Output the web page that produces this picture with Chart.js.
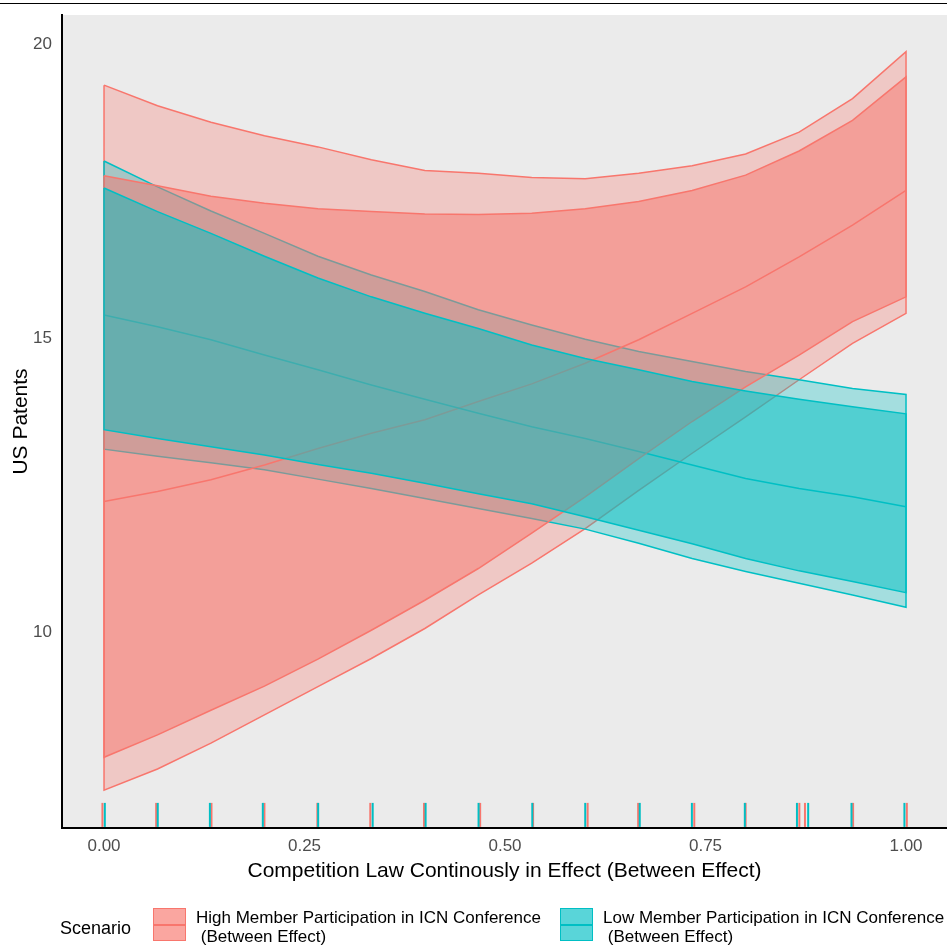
<!DOCTYPE html>
<html>
<head>
<meta charset="utf-8">
<script src="https://cdn.jsdelivr.net/npm/chart.js@4.4.1/dist/chart.umd.min.js"></script>
<style>
  html, body { margin: 0; padding: 0; background: #ffffff; }
  #wrap { position: relative; width: 947px; height: 946px; overflow: hidden; font-family: 'Liberation Sans', Arial, sans-serif; }
  #topline { position: absolute; left: 0; top: 3px; width: 947px; height: 1px; background: #000; }
  canvas { position: absolute; left: 0; top: 0; }
  .legtitle { position: absolute; left: 60px; top: 916px; font-size: 18px; color: #000; line-height: 24px; }
  .key { position: absolute; top: 908px; width: 31px; height: 31px; box-sizing: content-box; }
  .key .mid { position: absolute; left: 0; right: 0; top: 15px; height: 1.5px; }
  .legtext { position: absolute; top: 908px; font-size: 17px; color: #000; line-height: 19px; white-space: pre; }
</style>
</head>
<body>
<div id="wrap">
  <canvas id="c" width="947" height="946"></canvas>
  <div id="topline"></div>
  <div id="legend"></div>
</div>
<script>
// ---------- data ----------
const xValues = [0, 0.0667, 0.1333, 0.2, 0.2667, 0.3333, 0.4, 0.4667, 0.5333, 0.6, 0.6667, 0.7333, 0.8, 0.8667, 0.9333, 1];

// High member participation (red)
const highOuterUpper = [19.30, 18.95, 18.67, 18.44, 18.25, 18.03, 17.85, 17.80, 17.73, 17.71, 17.80, 17.93, 18.13, 18.50, 19.07, 19.87];
const highInnerUpper = [17.76, 17.59, 17.41, 17.29, 17.20, 17.15, 17.11, 17.10, 17.12, 17.20, 17.32, 17.51, 17.77, 18.18, 18.70, 19.44];
const highFit        = [12.22, 12.39, 12.59, 12.84, 13.12, 13.38, 13.61, 13.92, 14.22, 14.57, 14.97, 15.42, 15.87, 16.38, 16.92, 17.51];
const highInnerLower = [7.87, 8.25, 8.67, 9.08, 9.54, 10.03, 10.54, 11.08, 11.68, 12.30, 12.95, 13.58, 14.17, 14.71, 15.28, 15.70];
const highOuterLower = [7.31, 7.67, 8.11, 8.59, 9.07, 9.55, 10.06, 10.63, 11.17, 11.76, 12.41, 13.04, 13.66, 14.29, 14.91, 15.42];

// Low member participation (teal)
const lowOuterUpper = [18.01, 17.57, 17.16, 16.78, 16.39, 16.07, 15.79, 15.48, 15.22, 14.98, 14.77, 14.60, 14.43, 14.29, 14.14, 14.04];
const lowInnerUpper = [17.55, 17.15, 16.78, 16.39, 16.02, 15.70, 15.42, 15.16, 14.88, 14.65, 14.46, 14.26, 14.10, 13.96, 13.83, 13.71];
const lowFit        = [15.39, 15.19, 14.97, 14.71, 14.46, 14.20, 13.96, 13.72, 13.49, 13.29, 13.07, 12.84, 12.61, 12.44, 12.30, 12.13];
const lowInnerLower = [13.44, 13.29, 13.15, 13.01, 12.85, 12.70, 12.53, 12.35, 12.18, 11.96, 11.73, 11.50, 11.25, 11.04, 10.86, 10.67];
const lowOuterLower = [13.11, 12.99, 12.88, 12.76, 12.60, 12.44, 12.27, 12.10, 11.93, 11.75, 11.51, 11.25, 11.03, 10.83, 10.63, 10.42];

// Rug (observed x values)
const highRug = [-0.002, 0.065, 0.134, 0.200, 0.266, 0.332, 0.399, 0.469, 0.535, 0.603, 0.666, 0.736, 0.800, 0.867, 0.874, 0.934, 1.001];
const lowRug  = [0.001, 0.067, 0.132, 0.198, 0.267, 0.335, 0.401, 0.467, 0.534, 0.600, 0.668, 0.733, 0.799, 0.864, 0.878, 0.932, 0.998];
const rugLevel = 6.89;

const xTicks = [0, 0.25, 0.5, 0.75, 1];
const yTicks = [10, 15, 20];

const scenarios = ['High Member Participation in ICN Conference\n (Between Effect)', 'Low Member Participation in ICN Conference\n (Between Effect)'];
const legendTitle = 'Scenario';
const xTitle = 'Competition Law Continously in Effect (Between Effect)';
const yTitle = 'US Patents';

const RED = '#F8766D';
const TEAL = '#00BFC4';

// ---------- helpers ----------
function ribbon(upper, lower) {
  const pts = xValues.map((x, i) => ({x: x, y: upper[i]}));
  for (let i = xValues.length - 1; i >= 0; i--) pts.push({x: xValues[i], y: lower[i]});
  pts.push({x: xValues[0], y: upper[0]});
  return pts;
}
function curve(vals) { return xValues.map((x, i) => ({x: x, y: vals[i]})); }
function rug(xs) { return xs.map(x => ({x: x, y: rugLevel})); }
function rgba(hex, a) {
  const n = parseInt(hex.slice(1), 16);
  return 'rgba(' + ((n >> 16) & 255) + ',' + ((n >> 8) & 255) + ',' + (n & 255) + ',' + a + ')';
}
function ribbonDs(upper, lower, color, alpha, order) {
  return {type: 'line', data: ribbon(upper, lower), borderColor: color, borderWidth: 1.5,
    backgroundColor: rgba(color, alpha), fill: 'shape', pointRadius: 0, tension: 0, order: order};
}
function lineDs(vals, color, order) {
  return {type: 'line', data: curve(vals), borderColor: color, borderWidth: 1.5, fill: false,
    pointRadius: 0, tension: 0, order: order};
}
function rugDs(xs, color, order) {
  return {type: 'scatter', data: rug(xs), pointStyle: 'line', rotation: 90, pointRadius: 12,
    pointHoverRadius: 12, borderColor: color, pointBorderColor: color, borderWidth: 2, pointBorderWidth: 2, order: order};
}
function noPad(s) { s.paddingLeft = 0; s.paddingRight = 0; s.paddingTop = 0; s.paddingBottom = 0; }

const panelBg = {
  id: 'panelBg',
  beforeDraw(chart) {
    const a = chart.chartArea, ctx = chart.ctx;
    ctx.save();
    ctx.fillStyle = '#EBEBEB';
    ctx.fillRect(a.left, a.top, a.right - a.left, a.bottom - a.top);
    ctx.restore();
  }
};

Chart.defaults.font.family = "'Liberation Sans', Arial, sans-serif";

new Chart(document.getElementById('c'), {
  type: 'line',
  data: {
    datasets: [
      ribbonDs(highOuterUpper, highOuterLower, RED, 0.3, 8),
      ribbonDs(lowOuterUpper, lowOuterLower, TEAL, 0.3, 7),
      lineDs(highFit, RED, 6),
      lineDs(lowFit, TEAL, 5),
      ribbonDs(highInnerUpper, highInnerLower, RED, 0.5, 4),
      ribbonDs(lowInnerUpper, lowInnerLower, TEAL, 0.5, 3),
      rugDs(highRug, RED, 2),
      rugDs(lowRug, TEAL, 1)
    ]
  },
  options: {
    responsive: false,
    animation: false,
    devicePixelRatio: 1,
    layout: {autoPadding: false, padding: {left: 0, right: 0, top: 15, bottom: 56}},
    plugins: {legend: {display: false}, tooltip: {enabled: false}},
    scales: {
      x: {
        type: 'linear', min: -0.0524, max: 1.0511,
        afterBuildTicks: s => { s.ticks = xTicks.map(v => ({value: v})); },
        afterFit: s => { s.height = 62; noPad(s); },
        grid: {display: false, drawTicks: false},
        border: {display: true, color: '#000', width: 2},
        ticks: {callback: v => Number(v).toFixed(2), color: '#4D4D4D', font: {size: 17}, padding: 8, maxRotation: 0},
        title: {display: true, text: xTitle, color: '#000', font: {size: 21}, padding: {top: 0, bottom: 6}}
      },
      y: {
        type: 'linear', min: 6.667, max: 20.493,
        afterBuildTicks: s => { s.ticks = yTicks.map(v => ({value: v})); },
        afterFit: s => { s.width = 62; noPad(s); },
        grid: {display: false, drawTicks: false},
        border: {display: true, color: '#000', width: 2},
        ticks: {callback: v => String(v), color: '#4D4D4D', font: {size: 17}, padding: 10},
        title: {display: true, text: yTitle, color: '#000', font: {size: 21}, padding: {top: 9, bottom: 0}}
      }
    }
  },
  plugins: [panelBg]
});

// ---------- legend (HTML text) ----------
const leg = document.getElementById('legend');
const t = document.createElement('div');
t.className = 'legtitle'; t.textContent = legendTitle; leg.appendChild(t);
const keyLefts = [153, 560];
const textLefts = [196, 603];
const colors = [RED, TEAL];
scenarios.forEach((s, i) => {
  const k = document.createElement('div');
  k.className = 'key';
  k.style.left = keyLefts[i] + 'px';
  k.style.border = '1.5px solid ' + colors[i];
  k.style.background = rgba(colors[i], 0.65);
  const m = document.createElement('div');
  m.className = 'mid'; m.style.background = colors[i];
  k.appendChild(m);
  leg.appendChild(k);
  const tx = document.createElement('div');
  tx.className = 'legtext'; tx.style.left = textLefts[i] + 'px'; tx.textContent = s;
  leg.appendChild(tx);
});
</script>
</body>
</html>
